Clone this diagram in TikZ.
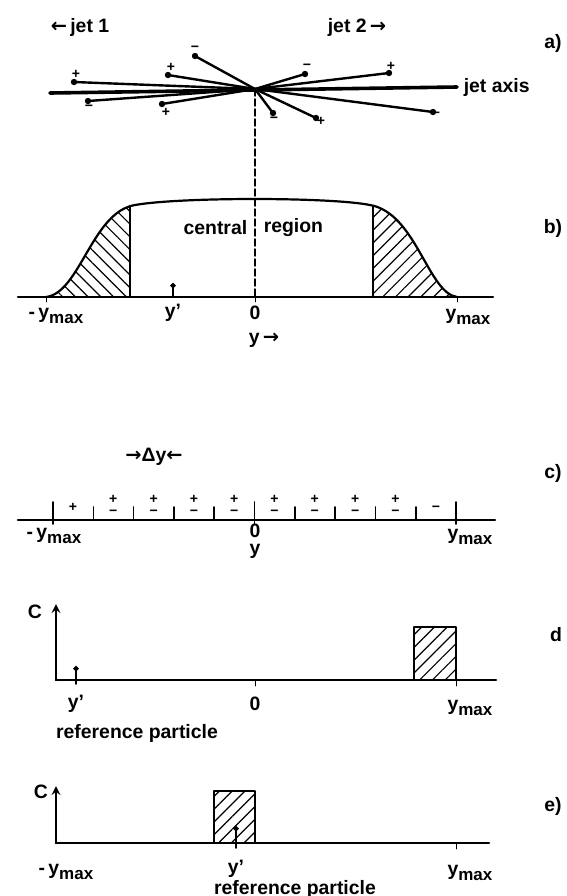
\documentclass[tikz,border=0pt]{standalone}
\usepackage{fontspec}
\setmainfont{Liberation Sans}
\newfontfamily\arwfont{DejaVu Sans}
\usetikzlibrary{patterns.meta,arrows.meta}
\newcommand{\arw}[1]{{\arwfont\bfseries #1}}
\newcommand{\ymx}{y\raisebox{-.55ex}{\fontsize{8.5}{8.5}\selectfont max}}
\begin{document}
\begin{tikzpicture}[x=0.5pt,y=-0.5pt,line join=round,line cap=round,>=stealth,thick]
	\tikzset{every node/.style={font=\fontsize{9.7}{11}\selectfont\bfseries,inner sep=0pt},
		sgn/.style={font=\fontsize{7}{7}\selectfont\bfseries},
		sgnpair/.style={font=\fontsize{7}{6}\selectfont\bfseries,align=center},
		hatchl/.style={pattern={Lines[angle=-45,distance=4.5pt,line width=0.6pt]}},
		hatchr/.style={pattern={Lines[angle=45,distance=4.5pt,line width=0.6pt]}},
		stem/.style={line width=0.9pt,-{Circle[length=2.6pt]}},
		axisline/.style={line width=1.3pt}}
	\useasboundingbox (0,0) rectangle (567,896);
	% a) the two jets
	\node (jeta) at (80,27) {\arw{←}\,jet 1};
	\node (jetb) at (357,27) {jet 2\,\arw{→}};
	\node (lba) at (553,43) {a)};
	\coordinate (axl) at (50,93);
	\coordinate (axr) at (457,87);
	\coordinate (vtx) at (255,89);
	\draw[line width=1.8pt] (axl) -- (axr);
	\node[anchor=west] (jax) at (463,87) {jet axis};
	\foreach \n/\ex/\ey/\lx/\ly/\q in {1/74/82/76/74/+, 2/88/101/89/108/−, 3/168/75/171/67/+,
		4/162/104/166/112/+, 5/195/56/195/49/−, 6/273/113/274/120/−, 7/316/118/321/121/+,
		8/305/74/307/67/−, 9/389/73/391/66/+, 10/433/112/436/115/−}
	{
		\coordinate (t\n) at (\ex,\ey);
		\draw[line width=1.2pt] (vtx) -- (t\n);
		\fill (t\n) circle (1.6pt);
		\node[sgn] (q\n) at (\lx,\ly) {\q};
	}
	% b) rapidity distribution
	\coordinate (bzero) at (255,297);
	\draw[line width=0.7pt,dash pattern=on 3.5pt off 1.5pt] (vtx) -- (bzero);
	\path[save path=\bcurve] (46,297) .. controls (80,293) and (92,212) .. (135,205)
		.. controls (180,197) and (330,197) .. (370,205)
		.. controls (416,213) and (428,293) .. (457,297);
	\begin{scope}
		\clip[use path=\bcurve];
		\fill[hatchl] (46,300) rectangle (130,180);
		\fill[hatchr] (373,300) rectangle (460,180);
		\draw (130,297) -- (130,180);
		\draw (373,297) -- (373,180);
	\end{scope}
	\draw[line width=1.1pt,use path=\bcurve];
	\draw[axisline] (18,297) -- (493,297);
	\node[anchor=east] (cen) at (248,228) {central};
	\node[anchor=west] (reg) at (263,228) {region};
	\node (lbb) at (553,228) {b)};
	\coordinate (ypb) at (173,283);
	\draw[stem] (173,297) -- (ypb);
	\foreach \x in {46,255,457}
	\draw[thin] (\x,297) -- (\x,302);
	\node (bmin) at (56,316) {-\,\ymx};
	\node (byp) at (173,313) {y'};
	\node (bnul) at (255,313) {0};
	\node (bmax) at (468,317) {\ymx};
	\node (by) at (264,340) {y\,\arw{→}};
	% c) bins of width dy
	\node (dy) at (154,457) {\arw{→}Δy\arw{←}};
	\node (lbc) at (553,473) {c)};
	\draw[axisline] (18,520) -- (495,520);
	\foreach \i in {0,...,10}
	\draw (53+40.3*\i,507) -- (53+40.3*\i,520);
	\foreach \i in {0,5,10}
	\draw (53+40.3*\i,502) -- (53+40.3*\i,524);
	\foreach \i in {1,...,8}
	\node[sgnpair] (pm\i) at (73+40.3*\i,505) {+\\−};
	\node[sgn] (p0) at (73,507) {+};
	\node[sgn] (m9) at (436,509) {−};
	\node (cmin) at (54,536) {-\,\ymx};
	\node (cnul) at (255,531) {0};
	\node (cmax) at (470,537) {\ymx};
	\node (cy) at (255,551) {y};
	% d) correlation, reference particle at the edge
	\coordinate (dO) at (56,680);
	\coordinate (dC) at (56,604);
	\draw[line width=1pt,->] (dO) -- (dC);
	\node (dc) at (35,612) {C};
	\draw[axisline] (dO) -- (496,680);
	\draw[line width=1.1pt,hatchr] (414,680) rectangle (456,627);
	\draw[stem] (76,684) -- (76,666);
	\foreach \x in {255,456}
	\draw[thin] (\x,680) -- (\x,686);
	\node (dyp) at (76,704) {y'};
	\node (dnul) at (255,704) {0};
	\node (dmax) at (470,708) {\ymx};
	\node (dref) at (137,733) {reference particle};
	\node (lbd) at (556,635) {d};
	% e) correlation, reference particle in the middle
	\coordinate (eO) at (56,843);
	\coordinate (eC) at (56,786);
	\draw[line width=1pt,->] (eO) -- (eC);
	\node (ec) at (41,792) {C};
	\draw[axisline] (eO) -- (489,843);
	\draw[line width=1.1pt,hatchr] (214,843) rectangle (255,791);
	\draw[stem] (236,848) -- (236,826);
	\draw[thin] (456,843) -- (456,849);
	\node (emin) at (66,872) {-\,\ymx};
	\node (eyp) at (236,869) {y'};
	\node (emax) at (470,873) {\ymx};
	\node (eref) at (295,889) {reference particle};
	\node (lbe) at (553,806) {e)};
\end{tikzpicture}
\end{document}
